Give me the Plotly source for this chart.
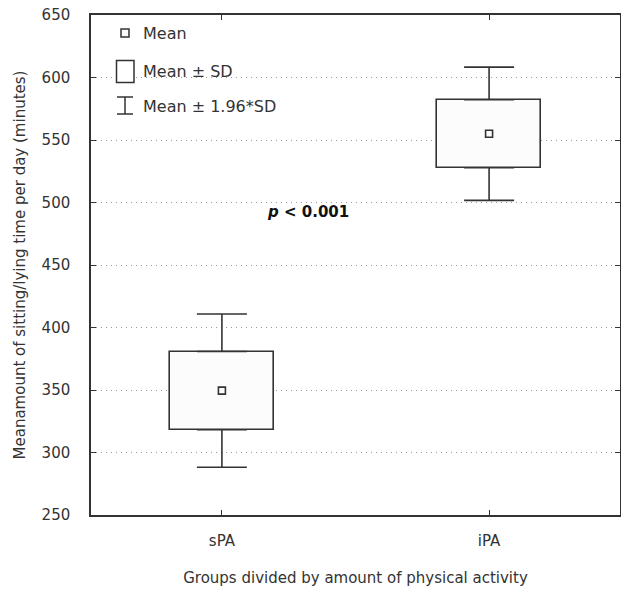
import plotly.graph_objects as go

# ---- data ----
groups = ["sPA", "iPA"]
group_pos = [0, 1]
means = [349.5, 555.0]
sds = [31.3, 27.2]
ci_mult = 1.96
y_ticks = [250, 300, 350, 400, 450, 500, 550, 600, 650]

DARK = "#333333"
FONT = "DejaVu Sans"
FS = 15

box_base = [m - s for m, s in zip(means, sds)]
box_height = [2 * s for s in sds]
box_top = [m + s for m, s in zip(means, sds)]
upper_extra = [ci_mult * s - s for s in sds]

fig = go.Figure()

# Mean ± SD box
fig.add_trace(go.Bar(
    x=group_pos, y=box_height, base=box_base, width=0.39,
    marker=dict(color="#fcfcfc", line=dict(color=DARK, width=1.6)),
    showlegend=False, hoverinfo="skip",
))

# whiskers (upper) from box top
fig.add_trace(go.Scatter(
    x=group_pos, y=box_top, mode="markers",
    marker=dict(opacity=0, size=1),
    error_y=dict(type="data", symmetric=False, array=upper_extra,
                 arrayminus=[0, 0], color=DARK, thickness=1.6, width=25),
    showlegend=False, hoverinfo="skip",
))
# whiskers (lower) from box bottom
fig.add_trace(go.Scatter(
    x=group_pos, y=box_base, mode="markers",
    marker=dict(opacity=0, size=1),
    error_y=dict(type="data", symmetric=False, array=[0, 0],
                 arrayminus=upper_extra, color=DARK, thickness=1.6, width=25),
    showlegend=False, hoverinfo="skip",
))

# mean markers
fig.add_trace(go.Scatter(
    x=group_pos, y=means, mode="markers",
    marker=dict(symbol="square", size=7, color="#fcfcfc",
                line=dict(color=DARK, width=1.6)),
    showlegend=False,
))

# ---- manual legend (paper coords) ----
L, R, T, B = 91, 620, 15, 515
def px(x):
    return (x - L) / (R - L)
def py(y):
    return (B - y) / (B - T)

shapes = [
    dict(type="rect", xref="paper", yref="paper", x0=px(121), x1=px(129),
         y0=py(37), y1=py(29), line=dict(color=DARK, width=1.5), fillcolor="white"),
    dict(type="rect", xref="paper", yref="paper", x0=px(116.5), x1=px(134),
         y0=py(82.5), y1=py(60.5), line=dict(color=DARK, width=1.5), fillcolor="white"),
    dict(type="line", xref="paper", yref="paper", x0=px(125), x1=px(125),
         y0=py(114), y1=py(97), line=dict(color=DARK, width=1.5)),
    dict(type="line", xref="paper", yref="paper", x0=px(117), x1=px(133),
         y0=py(97), y1=py(97), line=dict(color=DARK, width=1.5)),
    dict(type="line", xref="paper", yref="paper", x0=px(117), x1=px(133),
         y0=py(114), y1=py(114), line=dict(color=DARK, width=1.5)),
]

legend_texts = [("Mean", 33), ("Mean ± SD", 71), ("Mean ± 1.96*SD", 106)]
annotations = []
for txt, yy in legend_texts:
    annotations.append(dict(text=txt, xref="paper", yref="paper", x=px(141), y=py(yy),
                            xanchor="left", yanchor="middle", showarrow=False,
                            font=dict(family=FONT, size=FS + 1, color=DARK)))

annotations.append(dict(text="<b><i>p</i> &lt; 0.001</b>", xref="paper", yref="paper",
                        x=px(308), y=py(212), xanchor="center", yanchor="middle",
                        showarrow=False, font=dict(family=FONT, size=FS, color="#111")))

fig.update_layout(
    width=621, height=597,
    margin=dict(l=91, r=1, t=15, b=82),
    paper_bgcolor="white", plot_bgcolor="white",
    font=dict(family=FONT, size=FS, color=DARK),
    shapes=shapes, annotations=annotations,
    bargap=0, showlegend=False,
)
fig.update_xaxes(
    range=[-0.49, 1.49], tickvals=group_pos, ticktext=groups,
    showline=True, linecolor=DARK, linewidth=1.5, mirror="ticks",
    ticks="inside", ticklen=5, tickcolor=DARK, showgrid=False, zeroline=False,
    ticklabelstandoff=11, automargin=False,
    title=dict(text="Groups divided by amount of physical activity",
               font=dict(family=FONT, size=FS, color=DARK), standoff=24),
)
fig.update_yaxes(
    range=[250, 650], tickvals=y_ticks,
    showline=True, linecolor=DARK, linewidth=1.5, mirror="ticks",
    ticks="inside", ticklen=5, tickcolor=DARK, zeroline=False,
    showgrid=True, gridcolor="#999999", griddash="1px,4px", gridwidth=1,
    ticklabelstandoff=16, automargin=False,
    title=dict(text="Meanamount of sitting/lying time per day (minutes)",
               font=dict(family=FONT, size=FS, color=DARK), standoff=12),
)

fig.write_html(
    "out.html",
    config={"displayModeBar": False},
    post_script="document.body.style.margin='0';document.body.style.overflow='hidden';",
)
